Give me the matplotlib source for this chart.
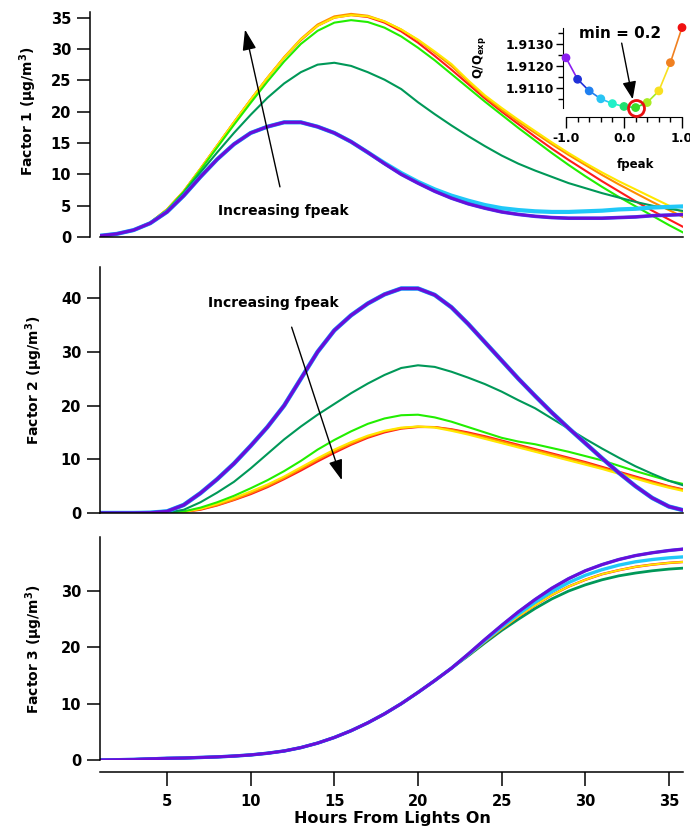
import matplotlib
matplotlib.use("Agg")
import matplotlib.pyplot as plt
from matplotlib.ticker import MultipleLocator, FormatStrFormatter

plt.rcParams['font.family'] = ['DejaVu Sans']
plt.rcParams['font.weight'] = 'bold'
plt.rcParams['axes.labelweight'] = 'bold'
plt.rcParams['mathtext.fontset'] = 'custom'
plt.rcParams['mathtext.rm'] = 'DejaVu Sans:bold'
plt.rcParams['mathtext.bf'] = 'DejaVu Sans:bold'
plt.rcParams['mathtext.it'] = 'DejaVu Sans:bold'

# hours from lights on (one reading per hour)
HOURS = list(range(1, 37))

# Factor 1
F1_PURPLE = [0.2, 0.5, 1.1, 2.2, 4.0, 6.6, 9.6, 12.4, 14.8, 16.6, 17.6, 18.3, 18.3, 17.6, 16.6, 15.2, 13.5, 11.7,
             10.0, 8.6, 7.3, 6.2, 5.3, 4.6, 4.0, 3.6, 3.3, 3.1, 3.0, 3.0, 3.0, 3.1, 3.2, 3.4, 3.5, 3.6]
F1_CYAN = [0.2, 0.5, 1.1, 2.2, 4.0, 6.6, 9.6, 12.4, 14.8, 16.6, 17.6, 18.3, 18.3, 17.6, 16.6, 15.2, 13.5, 11.8,
           10.2, 8.8, 7.6, 6.6, 5.8, 5.1, 4.6, 4.3, 4.1, 4.0, 4.0, 4.1, 4.2, 4.4, 4.5, 4.7, 4.8, 4.9]
F1_DKGREEN = [0.2, 0.5, 1.1, 2.3, 4.2, 7.0, 10.3, 13.5, 16.6, 19.5, 22.2, 24.5, 26.3, 27.5, 27.8, 27.3, 26.3, 25.1,
              23.6, 21.5, 19.6, 17.8, 16.1, 14.5, 13.0, 11.7, 10.6, 9.6, 8.6, 7.8, 7.0, 6.3, 5.6, 5.0, 4.5, 4.1]
F1_LIME = [0.2, 0.5, 1.1, 2.3, 4.3, 7.2, 10.7, 14.3, 17.9, 21.4, 24.8, 28.0, 30.8, 32.9, 34.2, 34.6, 34.3, 33.4,
           32.0, 30.2, 28.2, 26.0, 23.8, 21.6, 19.5, 17.4, 15.4, 13.4, 11.5, 9.7, 8.0, 6.4, 4.9, 3.4, 1.9, 0.5]
F1_YELLOW = [0.2, 0.5, 1.1, 2.3, 4.4, 7.3, 10.9, 14.6, 18.3, 21.9, 25.4, 28.6, 31.5, 33.7, 35.0, 35.4, 35.2, 34.4,
             33.1, 31.5, 29.6, 27.6, 25.0, 22.6, 20.6, 18.7, 16.9, 15.1, 13.4, 11.8, 10.3, 8.9, 7.6, 6.3, 5.0, 3.7]
F1_ORANGE = [0.2, 0.5, 1.1, 2.3, 4.4, 7.3, 10.9, 14.6, 18.3, 21.9, 25.4, 28.7, 31.6, 33.9, 35.2, 35.6, 35.3, 34.4,
             33.1, 31.4, 29.4, 27.3, 24.8, 22.4, 20.3, 18.4, 16.6, 14.8, 13.1, 11.5, 9.9, 8.4, 7.0, 5.6, 4.3, 3.0]
F1_RED = [0.2, 0.5, 1.1, 2.3, 4.4, 7.3, 10.9, 14.6, 18.3, 21.9, 25.4, 28.6, 31.4, 33.7, 35.0, 35.4, 35.1, 34.2,
          32.8, 31.0, 28.9, 26.7, 24.4, 22.1, 20.0, 18.0, 16.0, 14.1, 12.3, 10.6, 8.9, 7.3, 5.7, 4.2, 2.8, 1.4]

# Factor 2
F2_PURPLE = [0, 0, 0, 0.05, 0.3, 1.5, 3.7, 6.3, 9.2, 12.5, 16.0, 20.0, 25.0, 30.0, 34.0, 36.8, 39.0, 40.7,
             41.8, 41.8, 40.6, 38.3, 35.2, 31.8, 28.4, 25.0, 21.8, 18.7, 15.8, 13.0, 10.2, 7.5, 5.0, 2.8, 1.2, 0.4]
F2_DKGREEN = [0, 0, 0, 0, 0.1, 0.6, 2.0, 3.8, 5.8, 8.3, 11.0, 13.7, 16.1, 18.3, 20.3, 22.3, 24.1, 25.7,
              27.0, 27.5, 27.2, 26.3, 25.2, 24.0, 22.6, 21.0, 19.5, 17.6, 15.7, 13.8, 12.0, 10.3, 8.7, 7.3, 6.0, 5.0]
F2_LIME = [0, 0, 0, 0, 0.05, 0.3, 1.0, 2.0, 3.2, 4.6, 6.1, 7.8, 9.7, 11.8, 13.6, 15.2, 16.6, 17.6,
           18.2, 18.3, 17.8, 17.0, 16.0, 15.0, 14.0, 13.3, 12.8, 12.1, 11.4, 10.6, 9.8, 8.8, 7.8, 6.9, 6.0, 5.3]
F2_YELLOW = [0, 0, 0, 0, 0.05, 0.2, 0.8, 1.7, 2.8, 4.0, 5.3, 6.8, 8.5, 10.2, 11.8, 13.2, 14.4, 15.3,
             15.9, 16.1, 15.9, 15.3, 14.6, 13.8, 13.0, 12.2, 11.4, 10.6, 9.8, 9.0, 8.2, 7.3, 6.4, 5.5, 4.7, 4.0]
F2_ORANGE = [0, 0, 0, 0, 0.05, 0.2, 0.7, 1.5, 2.5, 3.7, 5.0, 6.5, 8.2, 9.9, 11.5, 12.9, 14.2, 15.2,
             15.8, 16.1, 16.0, 15.5, 14.8, 14.1, 13.3, 12.5, 11.7, 10.9, 10.1, 9.3, 8.4, 7.5, 6.6, 5.7, 4.9, 4.2]
F2_RED = [0, 0, 0, 0, 0.05, 0.2, 0.6, 1.4, 2.4, 3.5, 4.8, 6.3, 7.9, 9.6, 11.2, 12.7, 14.0, 15.0,
          15.7, 16.0, 16.0, 15.6, 15.0, 14.3, 13.5, 12.7, 11.9, 11.1, 10.3, 9.5, 8.6, 7.7, 6.8, 5.9, 5.0, 4.3]

# Factor 3
F3_PURPLE = [0.0, 0.05, 0.1, 0.2, 0.3, 0.35, 0.45, 0.55, 0.7, 0.9, 1.2, 1.6, 2.2, 3.0, 4.0, 5.2, 6.6, 8.2,
             10.0, 12.0, 14.1, 16.3, 18.8, 21.4, 23.9, 26.3, 28.5, 30.5, 32.2, 33.6, 34.7, 35.6, 36.3, 36.8, 37.2, 37.5]
F3_CYAN = [0.0, 0.05, 0.1, 0.2, 0.3, 0.35, 0.45, 0.55, 0.7, 0.9, 1.2, 1.6, 2.2, 3.0, 4.0, 5.2, 6.6, 8.2,
           10.0, 12.0, 14.1, 16.3, 18.7, 21.2, 23.6, 25.9, 28.0, 29.9, 31.5, 32.8, 33.8, 34.6, 35.2, 35.6, 35.9, 36.1]
F3_MID = [0.0, 0.05, 0.1, 0.2, 0.3, 0.35, 0.45, 0.55, 0.7, 0.9, 1.2, 1.6, 2.2, 3.0, 4.0, 5.2, 6.6, 8.2,
          10.0, 12.0, 14.1, 16.3, 18.6, 21.0, 23.3, 25.5, 27.5, 29.3, 30.8, 32.0, 33.0, 33.7, 34.3, 34.7, 35.0, 35.2]
F3_DKGREEN = [0.0, 0.05, 0.1, 0.2, 0.3, 0.35, 0.45, 0.55, 0.7, 0.9, 1.2, 1.6, 2.2, 3.0, 4.0, 5.2, 6.6, 8.2,
              10.0, 12.0, 14.1, 16.3, 18.5, 20.8, 23.0, 25.0, 26.9, 28.6, 30.0, 31.1, 32.0, 32.7, 33.2, 33.6, 33.9, 34.1]

# inset: Q/Qexp vs fpeak
FPEAK = [-1.0, -0.8, -0.6, -0.4, -0.2, 0.0, 0.2, 0.4, 0.6, 0.8, 1.0]
Q_RATIO = [1.91239, 1.91141, 1.91088, 1.91052, 1.91030, 1.91017, 1.91012, 1.91035, 1.91088, 1.91217, 1.91377]
FPEAK_COLORS = ['#8a1ef0', '#2030d8', '#2080f0', '#28c4f4', '#20f0c8', '#20e070',
                '#38dc28', '#a8ec20', '#f8e020', '#f08020', '#f01010']

PURPLE = '#6a0dd8'
BLUE = '#3a50f0'
CYAN = '#20c8f8'
DKGREEN = '#009858'
LIME = '#22ee00'
YELLOW = '#ffe800'
ORANGE = '#ff8c00'
RED = '#ff1a1a'

W, H = 690, 831
fig = plt.figure(figsize=(W / 100, H / 100), dpi=100)


def px_axes(left, right, top, bottom):
    return fig.add_axes([left / W, 1 - bottom / H, (right - left) / W, (bottom - top) / H])


def style(ax, ymax, step):
    ax.set_xlim(0.995, 35.84)
    ax.set_ylim(0, ymax)
    ax.patch.set_alpha(0)
    for s in ['top', 'right']:
        ax.spines[s].set_visible(False)
    for s in ['left', 'bottom']:
        ax.spines[s].set_linewidth(1.1)
    ax.yaxis.set_major_locator(MultipleLocator(step))
    ax.tick_params(axis='y', direction='out', length=9.5, width=1.1, pad=4, labelsize=10.5)


ax1 = px_axes(100, 683, 12, 237)
ax2 = px_axes(100, 683, 267, 513)
ax3 = px_axes(100, 683, 537, 760)

style(ax1, 35.9, 5)
style(ax2, 45.8, 10)
style(ax3, 39.6, 10)
ax1.spines['left'].set_position(('outward', 7.2))
for ax in (ax1, ax2):
    ax.tick_params(axis='x', bottom=False, labelbottom=False)
ax3.spines['bottom'].set_position(('outward', 8.6))
ax3.xaxis.set_major_locator(MultipleLocator(5))
ax3.tick_params(axis='x', direction='out', length=10, width=1.1, pad=6, labelsize=10.5)

# panel 1
ax1.plot(HOURS, F1_RED, color=RED, lw=1.5)
ax1.plot(HOURS, F1_ORANGE, color=ORANGE, lw=1.5)
ax1.plot(HOURS, F1_YELLOW, color=YELLOW, lw=1.5)
ax1.plot(HOURS, F1_LIME, color=LIME, lw=1.5)
ax1.plot(HOURS, F1_DKGREEN, color=DKGREEN, lw=1.5)
ax1.plot(HOURS, F1_CYAN, color=CYAN, lw=3.0)
ax1.plot(HOURS, F1_PURPLE, color=BLUE, lw=2.6)
ax1.plot(HOURS, F1_PURPLE, color=PURPLE, lw=2.0)

# panel 2
ax2.plot(HOURS, F2_RED, color=RED, lw=1.5)
ax2.plot(HOURS, F2_ORANGE, color=ORANGE, lw=1.5)
ax2.plot(HOURS, F2_YELLOW, color=YELLOW, lw=1.5)
ax2.plot(HOURS, F2_LIME, color=LIME, lw=1.5)
ax2.plot(HOURS, F2_DKGREEN, color=DKGREEN, lw=1.5)
ax2.plot(HOURS, F2_PURPLE, color=CYAN, lw=3.2)
ax2.plot(HOURS, F2_PURPLE, color=BLUE, lw=2.7)
ax2.plot(HOURS, F2_PURPLE, color=PURPLE, lw=2.1)

# panel 3
ax3.plot(HOURS, F3_DKGREEN, color=DKGREEN, lw=2.0)
ax3.plot(HOURS, F3_MID, color=RED, lw=1.8)
ax3.plot(HOURS, F3_MID, color=YELLOW, lw=1.4)
ax3.plot(HOURS, F3_CYAN, color=CYAN, lw=2.4)
ax3.plot(HOURS, F3_PURPLE, color=BLUE, lw=2.4)
ax3.plot(HOURS, F3_PURPLE, color=PURPLE, lw=2.0)

arrow = dict(arrowstyle='-|>,head_length=0.9,head_width=0.3', color='k', lw=1.0,
             mutation_scale=14, shrinkA=0, shrinkB=0)
ax1.annotate('', xy=(9.66, 33.1), xytext=(11.75, 8.0), arrowprops=arrow)
ax1.text(11.93, 4.2, 'Increasing fpeak', ha='center', va='center', fontsize=10)
ax2.annotate('', xy=(15.45, 6.1), xytext=(12.45, 34.6), arrowprops=arrow)
ax2.text(11.34, 39.1, 'Increasing fpeak', ha='center', va='center', fontsize=10)

fig.text(28 / W, 1 - 111 / H, 'Factor 1 (µg/m$^\\mathrm{3}$)', rotation=90, ha='center', va='center', fontsize=10)
fig.text(34 / W, 1 - 380 / H, 'Factor 2 (µg/m$^\\mathrm{3}$)', rotation=90, ha='center', va='center', fontsize=10)
fig.text(34 / W, 1 - 649 / H, 'Factor 3 (µg/m$^\\mathrm{3}$)', rotation=90, ha='center', va='center', fontsize=10)
fig.text(392 / W, 1 - 818 / H, 'Hours From Lights On', ha='center', va='center', fontsize=11.5)

# inset
ins = px_axes(566, 682, 28, 108)
ins.patch.set_alpha(0)
ins.set_xlim(-1.0, 1.0)
ins.set_ylim(1.91010, 1.91375)
for s in ['top', 'right']:
    ins.spines[s].set_visible(False)
ins.spines['bottom'].set_position(('outward', 6.5))
ins.spines['left'].set_position(('outward', 2))
ins.xaxis.set_major_locator(MultipleLocator(1.0))
ins.xaxis.set_minor_locator(MultipleLocator(0.2))
ins.yaxis.set_major_locator(MultipleLocator(0.001))
ins.yaxis.set_minor_locator(MultipleLocator(0.0005))
ins.xaxis.set_major_formatter(FormatStrFormatter('%.1f'))
ins.yaxis.set_major_formatter(FormatStrFormatter('%.4f'))
ins.tick_params(axis='x', which='major', direction='out', length=8, width=1, labelsize=9, pad=3)
ins.tick_params(axis='y', which='major', direction='out', length=5, width=1, labelsize=9, pad=2)
ins.tick_params(which='minor', direction='out', length=3.5, width=1)
for i in range(len(FPEAK) - 1):
    ins.plot(FPEAK[i:i + 2], Q_RATIO[i:i + 2], color=FPEAK_COLORS[i], lw=1.2, clip_on=False)
ins.scatter(FPEAK, Q_RATIO, c=FPEAK_COLORS, s=28, zorder=3, clip_on=False)
ins.plot([0.2], [1.91012], 'o', mfc='none', mec='#e81010', ms=11.5, mew=2, zorder=4, clip_on=False)
ins.text(-0.074, 1.9135, 'min = 0.2', ha='center', va='center', fontsize=11)
ins.annotate('', xy=(0.15, 1.9105), xytext=(-0.04, 1.91306), annotation_clip=False,
             arrowprops=dict(arrowstyle='-|>,head_length=0.9,head_width=0.35', color='k', lw=1.0,
                             mutation_scale=12, shrinkA=0, shrinkB=0))
ins.set_xlabel('fpeak', fontsize=8.5, fontweight='bold')
ins.xaxis.set_label_coords(0.595, -0.625)
ins.set_ylabel('Q/Q$_\\mathrm{exp}$', fontsize=8.5, fontweight='bold')
ins.yaxis.set_label_coords(-0.67, 0.625)

fig.savefig('out.png', dpi=100)
